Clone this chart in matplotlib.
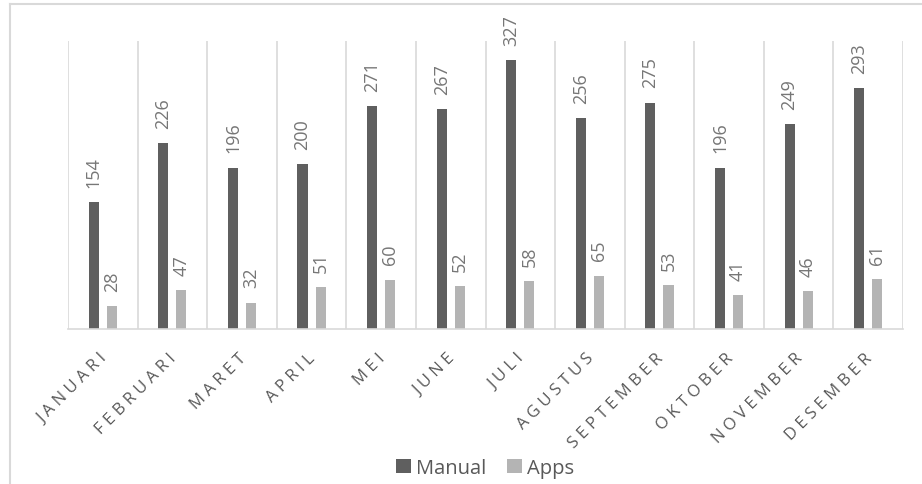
import matplotlib.pyplot as plt
import numpy as np
from matplotlib.lines import Line2D
from matplotlib.transforms import ScaledTranslation

months = ["JANUARI", "FEBRUARI", "MARET", "APRIL", "MEI", "JUNE", "JULI",
          "AGUSTUS", "SEPTEMBER", "OKTOBER", "NOVEMBER", "DESEMBER"]
manual = [154, 226, 196, 200, 271, 267, 327, 256, 275, 196, 249, 293]
apps = [28, 47, 32, 51, 60, 52, 58, 65, 53, 41, 46, 61]

plt.rcParams['font.family'] = ['Open Sans', 'DejaVu Sans']

dark = '#5f5f5f'
light = '#b4b4b4'
grid_c = '#d9d9d9'

fig = plt.figure(figsize=(9.22, 4.85), dpi=100)
ax = fig.add_axes([68 / 922, 1 - 330 / 485, 835 / 922, 288 / 485])

x = np.arange(len(months))
w = 0.145
off = 0.13
b1 = ax.bar(x - off, manual, w, color=dark, label='Manual')
b2 = ax.bar(x + off, apps, w, color=light, label='Apps')

for bars, vals in ((b1, manual), (b2, apps)):
    for r, v in zip(bars, vals):
        ax.annotate(str(v), (r.get_x() + r.get_width() / 2, r.get_height()),
                    xytext=(0, 11), textcoords='offset points', rotation=90,
                    ha='center', va='bottom', fontsize=13, color='#767676',
                    annotation_clip=False)

ax.set_xlim(-0.5, len(months) - 0.5)
ax.set_ylim(0, 350)
ax.set_yticks([])
for b in np.arange(-0.5, len(months), 1.0):
    ax.axvline(b, color=grid_c, lw=1.2, zorder=0)

for s in ['top', 'right', 'left']:
    ax.spines[s].set_visible(False)
ax.spines['bottom'].set_color(grid_c)
ax.spines['bottom'].set_linewidth(1.2)

ax.set_xticks(x)
spaced = ['\u2009\u200a'.join(m) for m in months]
ax.set_xticklabels(spaced, rotation=45, ha='right', rotation_mode='anchor',
                   fontsize=12, color='#595959')
ax.tick_params(axis='x', length=0, pad=15)
shift = ScaledTranslation(-4 / 100, 0, fig.dpi_scale_trans)
for lab in ax.get_xticklabels():
    lab.set_transform(lab.get_transform() + shift)

fig.legend(handles=[b1, b2], loc='center', bbox_to_anchor=(485 / 922, 1 - 469 / 485),
           ncol=2, frameon=False, fontsize=14.5, handlelength=0.75,
           handleheight=0.75, handletextpad=0.25, columnspacing=1.0,
           labelcolor='#595959')

# outer chart border (left and top visible)
fx = 10 / 922
fy = 1 - 5 / 485
fig.add_artist(Line2D([fx, fx], [0, fy], transform=fig.transFigure,
                      color=grid_c, lw=1.5))
fig.add_artist(Line2D([fx, 1], [fy, fy], transform=fig.transFigure,
                      color=grid_c, lw=1.5))

fig.savefig('out.png', dpi=100)
